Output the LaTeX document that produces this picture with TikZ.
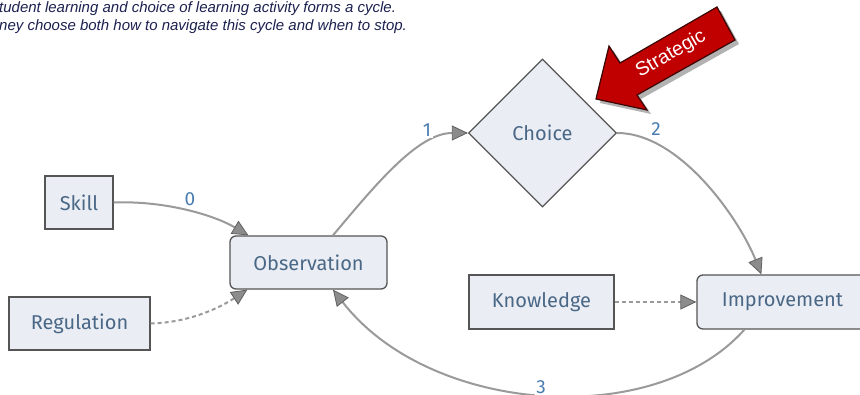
\documentclass[tikz,border=0pt]{standalone}
\usepackage{fontspec}
\usetikzlibrary{arrows.meta,shapes.geometric,calc}
\newfontfamily\boxfont{Fira Sans}
\newfontfamily\notefont{Liberation Sans}

\definecolor{boxfill}{HTML}{EAEEF4}
\definecolor{boxline}{HTML}{555555}
\definecolor{boxtext}{HTML}{4A6786}
\definecolor{numtext}{HTML}{4A7DB0}
\definecolor{edgeline}{HTML}{9A9A9A}
\definecolor{notetext}{HTML}{1C2150}
\definecolor{alertred}{HTML}{C00000}
\definecolor{alertline}{HTML}{3A0505}

\tikzset{
  box/.style={draw=boxline, line width=1.3pt, fill=boxfill, text=boxtext,
    font=\boxfont\fontsize{20}{22}\selectfont, inner sep=0pt, minimum height=53pt},
  roundbox/.style={box, rounded corners=6pt},
  decision/.style={box, diamond, aspect=1, minimum width=148pt, minimum height=148pt},
  tipshape/.style={-{Triangle[length=16pt,width=15pt,color=black!62,fill=black!45,line width=0.8pt]}},
  flow/.style={draw=edgeline, line width=2pt, tipshape},
  dotflow/.style={flow, dash pattern=on 4pt off 3pt},
  steplabel/.style={fill=white, text=numtext, inner sep=1.5pt,
    font=\boxfont\fontsize{19}{20}\selectfont},
  note/.style={anchor=base west, text=notetext, inner sep=0pt,
    font=\notefont\itshape\fontsize{15}{17}\selectfont}
}

\begin{document}
\begin{tikzpicture}[x=1pt, y=-1pt]
  \useasboundingbox (0,0) rectangle (860,395);
  \clip (0,0) rectangle (860,395);
  \fill[white] (0,0) rectangle (860,395);

  % caption lines
  \node[note] (noteA) at (-1,12.5) {tudent learning and choice of learning activity forms a cycle.};
  \node[note] (noteB) at (-1,31) {ney choose both how to navigate this cycle and when to stop.};

  % nodes of the cycle
  \node[box, minimum width=68pt] (skill) at (79,202.5) {Skill};
  \node[box, minimum width=141pt] (regulation) at (79.5,323.5) {Regulation};
  \node[roundbox, minimum width=157pt] (obs) at (308.5,262.5) {Observation};
  \node[decision] (choice) at (542.5,133) {Choice};
  \node[box, minimum width=145pt, minimum height=54pt] (knowledge) at (541.5,302) {Knowledge};
  \node[roundbox, minimum width=171pt, minimum height=54pt] (improve) at (782.5,302) {Improvement};

  % connectors
  \draw[flow] (skill.east) .. controls +(52,-2) and +(-34,-20) .. ($(obs.north west)+(19,0)$);
  \draw[dotflow] (regulation.east) .. controls +(40,-1) and +(-26,17) .. ($(obs.south west)+(18,0)$);
  \draw[flow] ($(obs.north)+(24.5,0)$) .. controls +(42,-50) and +(-50,0) .. (choice.west);
  \draw[flow] (choice.east) .. controls +(63,0) and +(-22,-55) .. ($(improve.north west)+(65,0)$);
  \draw[flow] ($(improve.south west)+(48,0)$) .. controls +(-90,101) and +(97,125) .. ($(obs.south)+(24.5,0)$);
  \draw[dotflow] (knowledge.east) -- (improve.west);

  % step numbers
  \node[steplabel] (n0) at (190,199) {0};
  \node[steplabel] (n1) at (427,130) {1};
  \node[steplabel] (n2) at (656,129) {2};
  \node[steplabel] (n3) at (541,387) {3};

  % red block arrow
  \coordinate (tip) at (596,99);
  \coordinate (barbA) at (609,46);
  \coordinate (neckA) at (620,63);
  \coordinate (tailA) at (717,7);
  \coordinate (tailB) at (735,40);
  \coordinate (neckB) at (637,95);
  \coordinate (barbB) at (647,110);
  \fill[black!55, opacity=0.55] ($(tip)+(4,4)$) -- ($(barbA)+(4,4)$) -- ($(neckA)+(4,4)$)
    -- ($(tailA)+(4,4)$) -- ($(tailB)+(4,4)$) -- ($(neckB)+(4,4)$) -- ($(barbB)+(4,4)$) -- cycle;
  \filldraw[fill=alertred, draw=alertline, line width=1.2pt, line join=miter]
    (tip) -- (barbA) -- (neckA) -- (tailA) -- (tailB) -- (neckB) -- (barbB) -- cycle;
  \node[text=white, rotate=30, inner sep=0pt, font=\notefont\fontsize{19.5}{20}\selectfont]
    (strategic) at (671,54) {Strategic};
\end{tikzpicture}
\end{document}
